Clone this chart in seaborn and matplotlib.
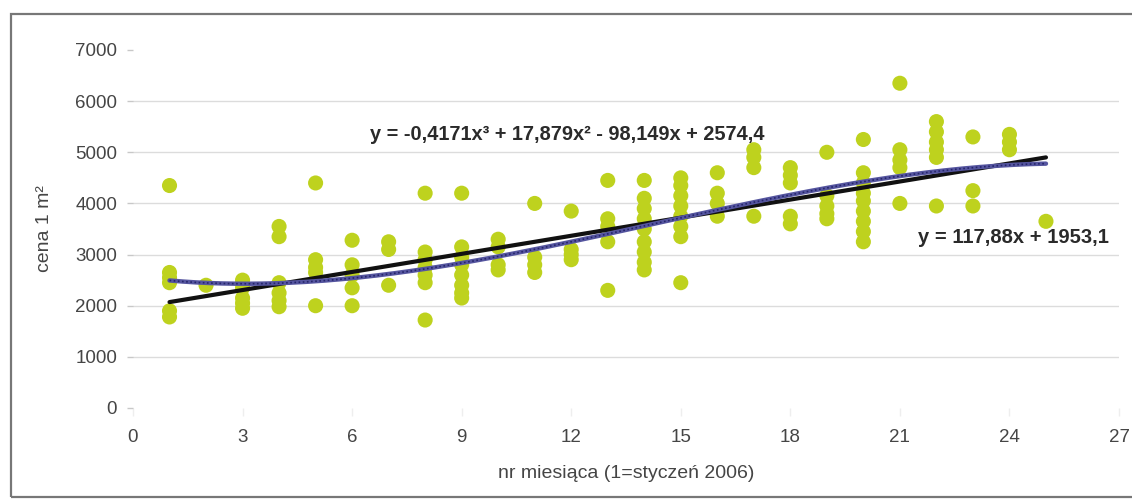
import numpy as np
import pandas as pd
import seaborn as sns
import matplotlib.pyplot as plt
from matplotlib.patches import Rectangle

# Observations: month number and price per square metre
miesiac = ([1] * 6 + [2] + [3] * 5 + [4] * 6 + [5] * 5 + [6] * 5 + [7] * 3 +
           [8] * 7 + [9] * 8 + [10] * 4 + [11] * 4 + [12] * 4 + [13] * 5 +
           [14] * 9 + [15] * 8 + [16] * 4 + [17] * 4 + [18] * 5 + [19] * 5 +
           [20] * 9 + [21] * 5 + [22] * 6 + [23] * 3 + [24] * 3 + [25])
cena = [4350, 2650, 2550, 2450, 1900, 1780,
        2400,
        2500, 2350, 2150, 2050, 1950,
        3550, 3350, 2450, 2250, 2100, 1980,
        4400, 2900, 2750, 2650, 2000,
        3280, 2800, 2600, 2350, 2000,
        3250, 3100, 2400,
        4200, 3050, 2900, 2750, 2600, 2450, 1720,
        4200, 3150, 2950, 2800, 2600, 2400, 2250, 2150,
        3300, 3150, 2800, 2700,
        4000, 2950, 2800, 2650,
        3850, 3100, 3000, 2900,
        4450, 3700, 3550, 3250, 2300,
        4450, 4100, 3900, 3700, 3500, 3250, 3050, 2850, 2700,
        4500, 4350, 4150, 3950, 3750, 3550, 3350, 2450,
        4600, 4200, 4000, 3750,
        5050, 4900, 4700, 3750,
        4700, 4550, 4400, 3750, 3600,
        5000, 4150, 3950, 3800, 3700,
        5250, 4600, 4400, 4200, 4050, 3850, 3650, 3450, 3250,
        6350, 5050, 4850, 4700, 4000,
        5600, 5400, 5200, 5050, 4900, 3950,
        5300, 4250, 3950,
        5350, 5200, 5050,
        3650]

# Trend line coefficients (highest power first)
trend_lin = [117.88, 1953.1]
trend_poly3 = [-0.4171, 17.879, -98.149, 2574.4]
eq_lin = "y = 117,88x + 1953,1"
eq_poly3 = "y = -0,4171x³ + 17,879x² - 98,149x + 2574,4"

x_ticks = [0, 3, 6, 9, 12, 15, 18, 21, 24, 27]
y_ticks = [0, 1000, 2000, 3000, 4000, 5000, 6000, 7000]

sns.set_theme(style="white")
plt.rcParams['font.family'] = ['Liberation Sans', 'DejaVu Sans']

df = pd.DataFrame({"nr": miesiac, "cena": cena})
xs = np.linspace(min(miesiac), max(miesiac), 200)
trend = pd.DataFrame({
    "x": xs,
    "lin": np.polyval(trend_lin, xs),
    "poly": np.polyval(trend_poly3, xs),
})

fig = plt.figure(figsize=(11.32, 4.99), dpi=100)
ax = fig.add_axes([133 / 1132, 1 - 408 / 499, (1119 - 133) / 1132, (408 - 50) / 499])

# outer frame
fig.patches.append(Rectangle((11 / 1132, 2 / 499), 1.2, 483 / 499,
                             transform=fig.transFigure, fill=False,
                             edgecolor='#777777', linewidth=1.6, zorder=0))

for v in y_ticks[1:-1]:
    ax.axhline(v, color='#dcdcdc', lw=1.0, zorder=0)

sns.scatterplot(data=df, x="nr", y="cena", ax=ax, color='#bed21e',
                s=118, edgecolor='none', zorder=2, legend=False)
sns.lineplot(data=trend, x="x", y="lin", ax=ax, color='#111111', lw=3.0,
             zorder=3)
sns.lineplot(data=trend, x="x", y="poly", ax=ax, color='#55559f', lw=3.2,
             zorder=4)
ax.plot(trend["x"], trend["poly"], color='#25256a', lw=1.2,
        linestyle=(0, (1, 1.5)), zorder=5)

ax.set_xlim(0, 27)
ax.set_ylim(0, 7000)
ax.set_xticks(x_ticks)
ax.set_yticks(y_ticks)
ax.set_xticklabels([str(t) for t in x_ticks])
ax.set_yticklabels([str(t) for t in y_ticks])
for s in ax.spines.values():
    s.set_visible(False)
ax.tick_params(axis='y', length=4.5, width=1, color='#c8c8c8', direction='out',
               pad=7, labelsize=13.5, labelcolor='#454545', left=True)
ax.tick_params(axis='x', length=6, width=1, color='#eeeeee', direction='out',
               pad=9, labelsize=13.5, labelcolor='#454545', bottom=True)

ax.set_xlabel("nr miesiąca (1=styczeń 2006)", fontsize=14, color='#454545',
              labelpad=14)
ax.set_ylabel("cena 1 m²", fontsize=14, color='#454545', labelpad=16)

ax.text(6.5, 5342, eq_poly3, fontsize=14.4, fontweight='bold', color='#2a2a2a',
        ha='left', va='center', zorder=6)
ax.text(21.5, 3327, eq_lin, fontsize=14.5, fontweight='bold', color='#2a2a2a',
        ha='left', va='center', zorder=6)

fig.savefig("out.png", dpi=100, facecolor='white')
